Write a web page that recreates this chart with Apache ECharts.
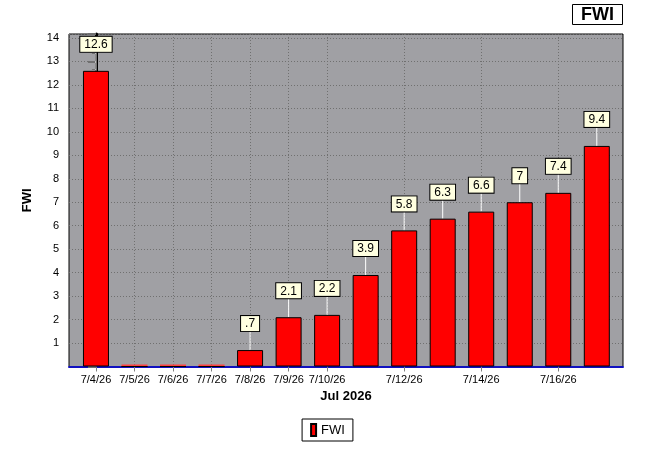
<!DOCTYPE html>
<html><head><meta charset="utf-8">
<script src="https://cdn.jsdelivr.net/npm/echarts@6/dist/echarts.min.js"></script>
<style>html,body{margin:0;padding:0;background:#fff}#c{width:655px;height:457px}</style>
</head><body><div id="c"></div>
<script>
var categories = ['7/4/26','7/5/26','7/6/26','7/7/26','7/8/26','7/9/26','7/10/26','7/11/26','7/12/26','7/13/26','7/14/26','7/15/26','7/16/26','7/17/26'];
var fwiValues = [12.6, 0, 0, 0, 0.7, 2.1, 2.2, 3.9, 5.8, 6.3, 6.6, 7, 7.4, 9.4];
var labeledIdx = [0,1,2,3,4,5,6,8,10,12];

var font = 'Liberation Sans, Arial, sans-serif';
var barData = fwiValues.map(function(v,i){
  return {value:[i,v], label:{show: v>0}};
});
function fmt(v){ return String(v).replace(/^0\./,'.'); }

var chart = echarts.init(document.getElementById('c'), null, {renderer:'canvas'});
chart.setOption({
  animation:false,
  title:{text:'FWI', right:32, top:4, padding:[2,9,1,9], borderColor:'#000', borderWidth:1,
    textStyle:{fontFamily:font, fontWeight:'bold', fontSize:18, color:'#000'}},
  legend:{data:['FWI'], bottom:16, left:'center', borderColor:'#000', borderWidth:1, padding:[4,8,4,8],
    icon:'rect', itemWidth:5, itemHeight:12, itemGap:6,
    textStyle:{fontFamily:font, fontSize:13, color:'#000'}},
  grid:{left:69, top:34, right:32, bottom:90.5, show:true, backgroundColor:'#a0a0a4', borderColor:'#000', borderWidth:1},
  xAxis:{type:'value', min:-0.7, max:13.68,
    name:'Jul 2026', nameLocation:'middle', nameGap:23,
    nameTextStyle:{fontFamily:font, fontWeight:'bold', fontSize:13, color:'#000'},
    axisLine:{show:true, onZero:false, lineStyle:{color:'#1010c0', width:2}},
    axisTick:{show:true, length:5, lineStyle:{color:'#808080'}, customValues:labeledIdx},
    axisLabel:{customValues:labeledIdx, fontFamily:font, fontSize:11, color:'#000', margin:8,
      formatter:function(v){return categories[Math.round(v)];}},
    splitLine:{show:true, lineStyle:{color:'#707070', type:[1,2], width:1}}
  },
  yAxis:{type:'value', min:0, max:14.17, interval:1,
    name:'FWI', nameLocation:'middle', nameGap:35, nameRotate:90,
    nameTextStyle:{fontFamily:font, fontWeight:'bold', fontSize:13, color:'#000'},
    axisLine:{show:true, lineStyle:{color:'#000', width:3}},
    axisTick:{show:true, length:8, lineStyle:{color:'#707070', width:2}},
    minorTick:{show:true, splitNumber:3, length:4, lineStyle:{color:'#707070', width:1}},
    axisLabel:{fontFamily:font, fontSize:11, color:'#000', margin:10, showMaxLabel:false,
      formatter:function(v){return (v>0 && Math.abs(v-Math.round(v))<1e-6 && v<=14)? String(v):'';}},
    splitLine:{show:true, lineStyle:{color:'#707070', type:[1,2], width:1}}
  },
  series:[
    {name:'FWI', type:'bar', data:barData, barWidth:26,
      itemStyle:{color:'#ff0000', borderColor:'#000', borderWidth:1},
      label:{show:true, position:'top', distance:19,
        formatter:function(p){return fmt(p.value[1]);},
        fontFamily:font, fontSize:12, color:'#000', backgroundColor:'#ffffe0',
        borderColor:'#000', borderWidth:1, padding:[2,4,1,4]},
      z:3},
    {name:'leaders', type:'custom', data:fwiValues.map(function(v,i){return [i,v];}), z:2,
      renderItem:function(params, api){
        var v = api.value(1);
        var p = api.coord([api.value(0), v]);
        if (!(v>0)) {
          return {type:'rect', shape:{x:p[0]-13, y:p[1]-2, width:26, height:2},
            style:{fill:'#ff4040'}};
        }
        return {type:'line', shape:{x1:p[0], y1:p[1], x2:p[0], y2:p[1]-19},
          style:{stroke:'#ffffff', lineWidth:1}};
      }}
  ]
});
</script></body></html>
